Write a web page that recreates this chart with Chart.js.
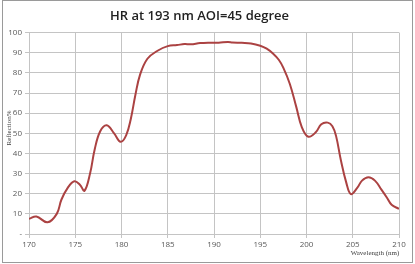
<!DOCTYPE html>
<html>
<head>
<meta charset="utf-8">
<script src="https://cdn.jsdelivr.net/npm/chart.js@4"></script>
<style>
  html, body { margin: 0; padding: 0; background: #fff; }
  #wrap { position: relative; width: 415px; height: 264px; }
</style>
</head>
<body>
<div id="wrap"><canvas id="hrChart" width="415" height="264"></canvas></div>
<script>
// valores
const wavelengths = [170, 170.8, 172, 173, 173.5, 174.2, 174.9, 175.5, 176, 176.6, 177.1, 177.7, 178.4, 179.2, 179.9,
    180.5, 181, 181.5, 182, 182.8, 183.9, 185, 186, 186.8, 187.5, 188.5, 189.5, 190.5, 191.5, 192, 193, 194, 195,
    195.7, 196.4, 197, 197.5, 198.2, 198.9, 199.5, 200.2, 201, 201.6, 202.3, 202.8, 203.2, 203.7, 204.3, 204.8,
    205.5, 206, 206.7, 207.4, 208.1, 208.7, 209.2, 210];
const reflection = [7.5, 8.7, 5.8, 10, 17, 23, 26.2, 24.5, 21.5, 30, 42, 51, 54, 50, 45.8,
    49, 57, 69, 79, 87, 91, 93.3, 93.8, 94.3, 94.2, 94.8, 95, 95, 95.3, 95.1, 94.9, 94.6, 93.5,
    92, 89.5, 86.5, 82.5, 74.5, 63, 53, 48.3, 50.5, 54.5, 55.3, 53.5, 48.6, 37, 25.5, 19.8,
    23, 26.5, 28.2, 26.5, 22, 18, 14.5, 12.5];
const xTicks = [170, 175, 180, 185, 190, 195, 200, 205, 210];
const yTicks = [0, 10, 20, 30, 40, 50, 60, 70, 80, 90, 100];

const gridColor = '#c4c4c4';
const tickFont = { family: 'Open Sans', size: 8 };

// títulos de ejes y marco, dibujados a mano
const extras = {
    id: 'extras',
    afterDraw(chart) {
        const c = chart.ctx;
        c.save();
        c.strokeStyle = '#9a9a9a';
        c.lineWidth = 1;
        c.strokeRect(2.5, 0.5, 410, 262);
        c.fillStyle = '#404040';
        c.font = '7px "Liberation Serif"';
        c.textAlign = 'center';
        c.textBaseline = 'middle';
        c.fillText('Wavelength (nm)', 375, 253);
        c.translate(9, 128);
        c.rotate(-Math.PI / 2);
        c.fillText('Reflection%', 0, 0);
        c.restore();
    }
};

new Chart(document.getElementById('hrChart').getContext('2d'), {
    type: 'line',
    data: {
        datasets: [{
            label: 'HR',
            data: wavelengths.map((w, i) => ({ x: w, y: reflection[i] })),
            borderColor: '#ab4242',
            borderWidth: 2,
            pointRadius: 0,
            tension: 0.4,
            fill: false
        }]
    },
    options: {
        responsive: false,
        animation: false,
        layout: { padding: { left: 0, right: 16, top: 0, bottom: 0 } },
        plugins: {
            legend: { display: false },
            tooltip: { enabled: false },
            title: {
                display: true,
                text: 'HR at 193 nm AOI=45 degree',
                color: '#222',
                font: { family: 'Open Sans', size: 13, weight: '600' },
                padding: { top: 8, bottom: 9 }
            }
        },
        scales: {
            x: {
                type: 'linear',
                min: 170,
                max: 210,
                afterBuildTicks(scale) { scale.ticks = xTicks.map(v => ({ value: v })); },
                afterFit(scale) { scale.height = 30; },
                grid: { color: gridColor, tickLength: 4 },
                border: { color: gridColor },
                ticks: { color: '#595959', font: tickFont, padding: 2, maxRotation: 0 }
            },
            y: {
                min: 0,
                max: 100,
                afterBuildTicks(scale) { scale.ticks = yTicks.map(v => ({ value: v })); },
                afterFit(scale) { scale.width = 29; },
                grid: { color: gridColor, tickLength: 4 },
                border: { color: gridColor },
                ticks: {
                    color: '#595959',
                    font: tickFont,
                    padding: 3,
                    callback: v => v === 0 ? '-' : v
                }
            }
        }
    },
    plugins: [extras]
});
</script>
</body>
</html>
